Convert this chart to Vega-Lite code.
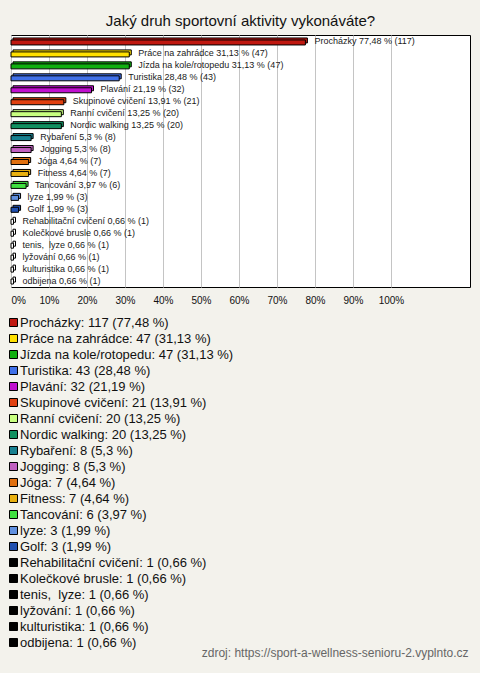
{
  "$schema": "https://vega.github.io/schema/vega-lite/v6.json",
  "autosize": {"type": "none"},
  "width": 459,
  "height": 252,
  "padding": {"left": 11, "top": 35, "right": 10, "bottom": 386},
  "background": "#f3f2ec",
  "title": {
    "text": "Jaký druh sportovní aktivity vykonáváte?",
    "font": "Liberation Sans",
    "fontSize": 15,
    "fontWeight": "normal",
    "color": "#111111",
    "anchor": "middle",
    "baseline": "alphabetic",
    "offset": 9,
    "dy": 15
  },
  "data": {
    "values": [
      {"activity": "Procházky", "count": 117, "pct": 77.48, "label": "Procházky 77,48 % (117)", "legend": "Procházky: 117 (77,48 %)"},
      {"activity": "Práce na zahrádce", "count": 47, "pct": 31.13, "label": "Práce na zahrádce 31,13 % (47)", "legend": "Práce na zahrádce: 47 (31,13 %)"},
      {"activity": "Jízda na kole/rotopedu", "count": 47, "pct": 31.13, "label": "Jízda na kole/rotopedu 31,13 % (47)", "legend": "Jízda na kole/rotopedu: 47 (31,13 %)"},
      {"activity": "Turistika", "count": 43, "pct": 28.48, "label": "Turistika 28,48 % (43)", "legend": "Turistika: 43 (28,48 %)"},
      {"activity": "Plavání", "count": 32, "pct": 21.19, "label": "Plavání 21,19 % (32)", "legend": "Plavání: 32 (21,19 %)"},
      {"activity": "Skupinové cvičení", "count": 21, "pct": 13.91, "label": "Skupinové cvičení 13,91 % (21)", "legend": "Skupinové cvičení: 21 (13,91 %)"},
      {"activity": "Ranní cvičení", "count": 20, "pct": 13.25, "label": "Ranní cvičení 13,25 % (20)", "legend": "Ranní cvičení: 20 (13,25 %)"},
      {"activity": "Nordic walking", "count": 20, "pct": 13.25, "label": "Nordic walking 13,25 % (20)", "legend": "Nordic walking: 20 (13,25 %)"},
      {"activity": "Rybaření", "count": 8, "pct": 5.3, "label": "Rybaření 5,3 % (8)", "legend": "Rybaření: 8 (5,3 %)"},
      {"activity": "Jogging", "count": 8, "pct": 5.3, "label": "Jogging 5,3 % (8)", "legend": "Jogging: 8 (5,3 %)"},
      {"activity": "Jóga", "count": 7, "pct": 4.64, "label": "Jóga 4,64 % (7)", "legend": "Jóga: 7 (4,64 %)"},
      {"activity": "Fitness", "count": 7, "pct": 4.64, "label": "Fitness 4,64 % (7)", "legend": "Fitness: 7 (4,64 %)"},
      {"activity": "Tancování", "count": 6, "pct": 3.97, "label": "Tancování 3,97 % (6)", "legend": "Tancování: 6 (3,97 %)"},
      {"activity": "lyze", "count": 3, "pct": 1.99, "label": "lyze 1,99 % (3)", "legend": "lyze: 3 (1,99 %)"},
      {"activity": "Golf", "count": 3, "pct": 1.99, "label": "Golf 1,99 % (3)", "legend": "Golf: 3 (1,99 %)"},
      {"activity": "Rehabilitační cvičení", "count": 1, "pct": 0.66, "label": "Rehabilitační cvičení 0,66 % (1)", "legend": "Rehabilitační cvičení: 1 (0,66 %)"},
      {"activity": "Kolečkové brusle", "count": 1, "pct": 0.66, "label": "Kolečkové brusle 0,66 % (1)", "legend": "Kolečkové brusle: 1 (0,66 %)"},
      {"activity": "tenis,  lyze", "count": 1, "pct": 0.66, "label": "tenis, \u00a0lyze 0,66 % (1)", "legend": "tenis, \u00a0lyze: 1 (0,66 %)"},
      {"activity": "lyžování", "count": 1, "pct": 0.66, "label": "lyžování 0,66 % (1)", "legend": "lyžování: 1 (0,66 %)"},
      {"activity": "kulturistika", "count": 1, "pct": 0.66, "label": "kulturistika 0,66 % (1)", "legend": "kulturistika: 1 (0,66 %)"},
      {"activity": "odbijena", "count": 1, "pct": 0.66, "label": "odbijena 0,66 % (1)", "legend": "odbijena: 1 (0,66 %)"}
    ]
  },
  "encoding": {
    "y": {
      "field": "activity",
      "type": "nominal",
      "sort": null,
      "axis": null,
      "scale": {"paddingInner": 0, "paddingOuter": 0.04}
    },
    "x": {
      "field": "pct",
      "type": "quantitative",
      "scale": {"domain": [0, 120.8], "nice": false, "zero": true},
      "axis": {
        "values": [0, 10, 20, 30, 40, 50, 60, 70, 80, 90, 100],
        "labelExpr": "datum.value + '%'",
        "labelFont": "Liberation Sans",
        "labelFontSize": 10,
        "labelColor": "#111111",
        "labelPadding": 8,
        "ticks": false,
        "domain": false,
        "grid": true,
        "gridColor": "#c4c4c4",
        "gridWidth": 1,
        "title": "zdroj: https://sport-a-wellness-senioru-2.vyplnto.cz",
        "titleFont": "Liberation Sans",
        "titleFontSize": 12,
        "titleFontWeight": "normal",
        "titleColor": "#666666",
        "titleAnchor": "end",
        "titleAlign": "right",
        "titleBaseline": "alphabetic",
        "titleX": 457,
        "titleY": 369
      }
    },
    "color": {
      "condition": {"test": "datum.count == 1", "value": "white"},
      "field": "legend",
      "type": "nominal",
      "sort": null,
      "scale": {
        "domain": [
          "Procházky: 117 (77,48 %)", "Práce na zahrádce: 47 (31,13 %)", "Jízda na kole/rotopedu: 47 (31,13 %)",
          "Turistika: 43 (28,48 %)", "Plavání: 32 (21,19 %)", "Skupinové cvičení: 21 (13,91 %)",
          "Ranní cvičení: 20 (13,25 %)", "Nordic walking: 20 (13,25 %)", "Rybaření: 8 (5,3 %)",
          "Jogging: 8 (5,3 %)", "Jóga: 7 (4,64 %)", "Fitness: 7 (4,64 %)", "Tancování: 6 (3,97 %)",
          "lyze: 3 (1,99 %)", "Golf: 3 (1,99 %)", "Rehabilitační cvičení: 1 (0,66 %)",
          "Kolečkové brusle: 1 (0,66 %)", "tenis, \u00a0lyze: 1 (0,66 %)", "lyžování: 1 (0,66 %)",
          "kulturistika: 1 (0,66 %)", "odbijena: 1 (0,66 %)"
        ],
        "range": [
          "#c01810", "#ffe000", "#10b010", "#4070e8", "#c010d0", "#e04010", "#c8ff80", "#109060",
          "#188090", "#c060c0", "#e07010", "#e8b010", "#40e040", "#6090e0", "#2050b0",
          "#000000", "#000000", "#000000", "#000000", "#000000", "#000000"
        ]
      },
      "legend": {
        "title": null,
        "orient": "none",
        "legendX": -4,
        "legendY": 281,
        "padding": 0,
        "symbolType": "square",
        "symbolSize": 64,
        "symbolStrokeColor": "black",
        "symbolStrokeWidth": 1,
        "symbolOpacity": 1,
        "labelFont": "Liberation Sans",
        "labelFontSize": 13,
        "labelColor": "#111111",
        "labelOffset": 0,
        "labelLimit": 400,
        "rowPadding": 2,
        "symbolLimit": 50
      }
    }
  },
  "layer": [
    {
      "mark": {"type": "bar", "height": 5, "xOffset": 2, "yOffset": -1, "stroke": "black", "strokeWidth": 1}
    },
    {
      "mark": {"type": "bar", "height": 5, "yOffset": 1, "stroke": "black", "strokeWidth": 1}
    },
    {
      "mark": {"type": "text", "align": "left", "baseline": "middle", "dx": 9, "dy": 0, "font": "Liberation Sans", "fontSize": 9, "color": "#1a1a1a"},
      "encoding": {
        "text": {"field": "label", "type": "nominal"},
        "color": {"value": "#1a1a1a"}
      }
    }
  ],
  "config": {
    "view": {"stroke": "black", "strokeWidth": 1, "fill": "white"}
  }
}
